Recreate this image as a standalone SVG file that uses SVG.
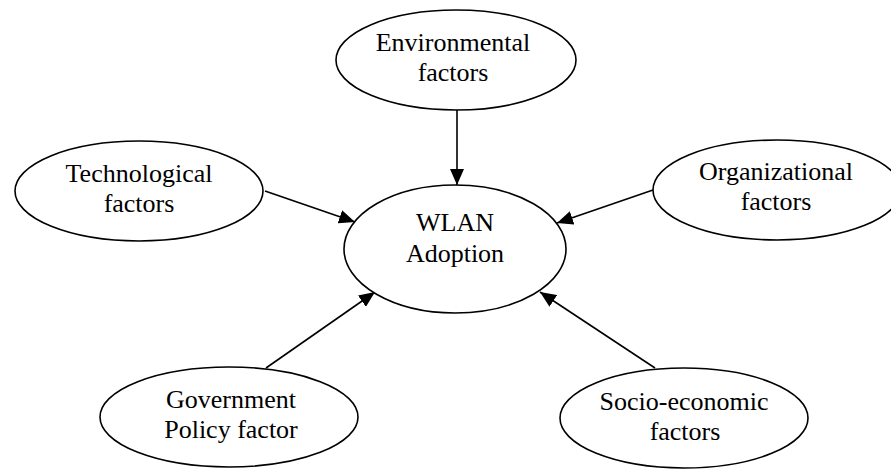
<svg xmlns="http://www.w3.org/2000/svg" width="891" height="471" viewBox="0 0 891 471">
  <style>
    .node ellipse { fill: #ffffff; stroke: #000000; stroke-width: 1.6; }
    .node text { font-family: "Liberation Serif", "Times New Roman", serif; font-size: 26px; fill: #000000; text-anchor: middle; }
    .edge { stroke: #000000; stroke-width: 1.6; fill: none; marker-end: url(#arrow); }
  </style>
  <defs>
    <marker id="arrow" markerUnits="userSpaceOnUse" markerWidth="16" markerHeight="14" refX="16" refY="7" orient="auto">
      <path d="M0,0 L16,7 L0,14 z" fill="#000000"/>
    </marker>
  </defs>
  <rect width="891" height="471" fill="#ffffff"/>

  <!-- connectors: every factor points into the central node -->
  <g id="connectors">
    <line class="edge" x1="457" y1="110" x2="457" y2="185"/>
    <line class="edge" x1="265" y1="191" x2="355" y2="222"/>
    <line class="edge" x1="653" y1="190" x2="557" y2="223"/>
    <line class="edge" x1="266" y1="368" x2="375" y2="292"/>
    <line class="edge" x1="655" y1="368" x2="540" y2="292"/>
  </g>

  <g id="environmental" class="node">
    <ellipse cx="456" cy="60" rx="120" ry="50"/>
    <text x="453" y="51">Environmental</text>
    <text x="453" y="81">factors</text>
  </g>

  <g id="technological" class="node">
    <ellipse cx="139" cy="191" rx="124" ry="50"/>
    <text x="139" y="182">Technological</text>
    <text x="139" y="212">factors</text>
  </g>

  <g id="wlan" class="node">
    <ellipse cx="455" cy="249" rx="111" ry="64"/>
    <text x="455" y="231">WLAN</text>
    <text x="455" y="262">Adoption</text>
  </g>

  <g id="organizational" class="node">
    <ellipse cx="777" cy="190" rx="124" ry="50"/>
    <text x="776" y="180">Organizational</text>
    <text x="776" y="210">factors</text>
  </g>

  <g id="government" class="node">
    <ellipse cx="229" cy="417" rx="129" ry="50"/>
    <text x="231" y="408">Government</text>
    <text x="231" y="438">Policy factor</text>
  </g>

  <g id="socioeconomic" class="node">
    <ellipse cx="684" cy="418" rx="124" ry="50"/>
    <text x="684" y="410">Socio-economic</text>
    <text x="685" y="440">factors</text>
  </g>
</svg>
